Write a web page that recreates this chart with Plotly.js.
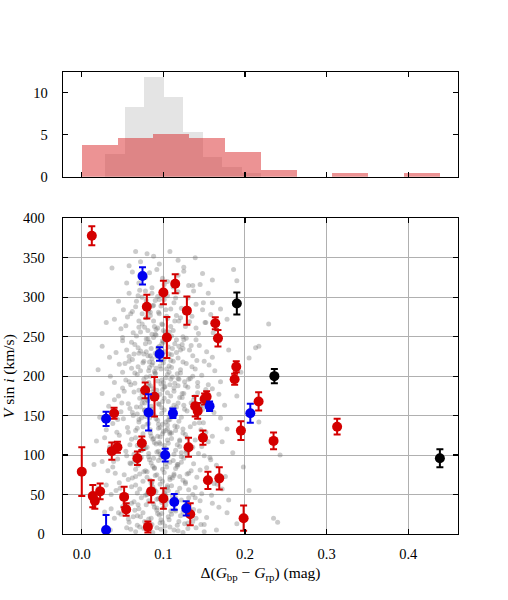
<!DOCTYPE html>
<html><head><meta charset="utf-8">
<script src="https://cdn.plot.ly/plotly-3.0.1.min.js"></script>
<style>html,body{margin:0;padding:0;background:#fff}</style>
</head><body><div id="chart" style="width:508px;height:600px"></div>
<script>
// ---- Colored sample (with errors) ----
var redX = [0.000,0.0123,0.0135,0.0160,0.0225,0.0368,0.0396,0.0437,0.0519,0.0544,0.0682,0.0736,0.0777,0.0797,0.0810,0.0850,0.0891,0.1000,0.1000,0.1043,0.1145,0.1288,0.1308,0.1329,0.1390,0.1420,0.1485,0.1505,0.1530,0.1546,0.1636,0.1669,0.1685,0.1873,0.1893,0.1950,0.1983,0.2167,0.2350,0.3129];
var redY = [79,378,48,42,54,105,153,110,47,31,96,115,182,288,9,54,174,306,45,249,317,283,110,25,162,156,122,171,174,68,267,248,70.5,196,212,131,20,168,118,136];
var redErr = [31,12,14,10,10,11,7,7,13,8,8.5,8.5,10,15,7,14,25,15,13,26,12,18,12,14,13,10,9,7,7,11,7.5,10.5,14,7,7,12,16,11.5,10.5,10];

var blueX = [0.0298,0.0298,0.0744,0.0818,0.0953,0.1022,0.1117,0.1133,0.1280,0.1566,0.2065];
var blueY = [146,5,327,154,228,100,153,40.6,32.5,162,153];
var blueErr = [9,19,11,23,8.5,8,6,10,9,6,12];

var blackX = [0.1900,0.2360,0.4388];
var blackY = [292,200,96];
var blackErr = [14,9,11.5];

// ---- Histograms (density) ----
var redBinEdges = [0.0,0.0439,0.0878,0.1316,0.1755,0.2194,0.2633,0.3072,0.3510,0.3949,0.4388];
var redDensity = [3.78,4.63,5.06,4.63,2.96,0.80,0,0.41,0,0.41];
var grayBinEdges = [0.0286,0.0525,0.0764,0.1003,0.1242,0.1481,0.1720,0.1959,0.2198];
var grayDensity = [2.65,8.29,11.85,9.48,5.33,2.30,1.18,0.40];

// ---- Field stars (background cloud) ----
var fieldX = [
0.066,0.080,0.108,0.139,0.072,0.095,0.118,0.058,0.088,0.125,
0.037,0.148,0.186,0.062,0.078,0.092,0.105,0.118,0.131,0.070,
0.086,0.099,0.112,0.055,0.125,0.145,0.160,0.190,0.083,0.101,
0.045,0.058,0.066,0.074,0.082,0.090,0.097,0.105,0.113,0.122,
0.130,0.140,0.155,0.170,0.062,0.071,0.086,0.094,0.109,0.118,
0.126,0.051,0.079,0.101,0.137,0.148,0.088,0.067,0.115,0.160,
0.030,0.048,0.056,0.063,0.070,0.077,0.084,0.091,0.098,0.105,
0.112,0.119,0.127,0.135,0.143,0.152,0.165,0.178,0.229,0.060,
0.067,0.074,0.081,0.088,0.095,0.102,0.109,0.116,0.124,0.132,
0.040,0.054,0.086,0.093,0.100,0.121,0.140,0.158,0.072,0.110,
0.025,0.042,0.050,0.058,0.065,0.072,0.079,0.086,0.093,0.100,
0.107,0.114,0.121,0.128,0.136,0.144,0.153,0.168,0.205,0.213,
0.217,0.062,0.069,0.076,0.083,0.090,0.097,0.104,0.111,0.118,
0.125,0.132,0.055,0.081,0.088,0.095,0.102,0.109,0.140,0.160,
0.070,0.078,0.085,0.092,0.099,0.106,0.116,0.123,0.034,0.180,
0.020,0.035,0.046,0.054,0.061,0.068,0.075,0.082,0.089,0.096,
0.103,0.110,0.117,0.124,0.131,0.139,0.147,0.156,0.170,0.195,
0.058,0.065,0.072,0.079,0.086,0.093,0.100,0.107,0.114,0.121,
0.128,0.050,0.084,0.091,0.098,0.105,0.112,0.136,0.150,0.163,
0.069,0.076,0.083,0.090,0.097,0.104,0.119,0.126,0.142,0.040,
0.025,0.040,0.050,0.057,0.064,0.071,0.078,0.085,0.092,0.099,
0.106,0.113,0.120,0.127,0.134,0.142,0.150,0.160,0.175,0.190,
0.060,0.067,0.074,0.081,0.088,0.095,0.102,0.109,0.116,0.123,
0.130,0.045,0.080,0.087,0.094,0.101,0.108,0.137,0.155,0.168,
0.070,0.077,0.084,0.091,0.098,0.105,0.118,0.125,0.145,0.033,
0.022,0.038,0.048,0.056,0.063,0.070,0.077,0.084,0.091,0.098,
0.105,0.112,0.119,0.126,0.133,0.141,0.149,0.162,0.178,0.217,
0.059,0.066,0.073,0.080,0.087,0.094,0.101,0.108,0.115,0.122,
0.129,0.044,0.082,0.089,0.096,0.103,0.110,0.138,0.156,0.170,
0.068,0.075,0.086,0.093,0.100,0.107,0.117,0.124,0.146,0.030,
0.018,0.034,0.046,0.054,0.061,0.068,0.075,0.082,0.089,0.096,
0.103,0.110,0.117,0.124,0.131,0.139,0.147,0.160,0.185,0.243,
0.057,0.064,0.071,0.078,0.085,0.092,0.099,0.106,0.113,0.120,
0.127,0.040,0.080,0.087,0.094,0.101,0.108,0.136,0.152,0.172,
0.066,0.073,0.084,0.091,0.098,0.105,0.115,0.122,0.143,0.028,
0.015,0.032,0.044,0.052,0.059,0.066,0.073,0.080,0.087,0.094,
0.101,0.108,0.115,0.122,0.129,0.137,0.145,0.158,0.176,0.198,
0.055,0.062,0.069,0.076,0.083,0.090,0.097,0.104,0.111,0.118,
0.125,0.038,0.078,0.085,0.092,0.099,0.106,0.134,0.150,0.165,
0.064,0.071,0.082,0.089,0.096,0.103,0.113,0.120,0.141,0.025,
0.020,0.036,0.046,0.054,0.061,0.068,0.075,0.082,0.089,0.096,
0.103,0.110,0.117,0.124,0.131,0.139,0.147,0.162,0.180,0.205,
0.057,0.064,0.071,0.078,0.085,0.092,0.099,0.106,0.113,0.120,
0.127,0.042,0.080,0.087,0.094,0.101,0.108,0.136,0.154,0.172,
0.066,0.073,0.084,0.091,0.098,0.105,0.115,0.122,0.145,0.030,
0.028,0.040,0.050,0.058,0.065,0.072,0.079,0.086,0.093,0.100,
0.107,0.114,0.121,0.128,0.136,0.144,0.153,0.168,0.190,0.240,
0.061,0.068,0.075,0.082,0.089,0.096,0.103,0.110,0.117,0.124,
0.131,0.048,0.085,0.092,0.099,0.106,0.113,0.140,0.160,0.178,
0.070,0.077,0.088,0.095,0.102,0.109,0.119,0.126,0.150,0.036,
0.035,0.055,0.066,0.076,0.087,0.097,0.108,0.118,0.130,0.150,
0.071,0.082,0.092,0.102,0.113,0.124,0.140,0.165,0.060,0.235,
0.093,0.081,0.107,0.118,0.074,0.099,0.088,0.112,0.127,0.069,
0.104,0.091,0.079,0.121,0.096,0.085,0.110,0.073,0.131,0.102,
0.087,0.114,0.098,0.076,0.109,0.123,0.083,0.095,0.117,0.068,
0.099,0.084,0.111,0.092,0.077,0.105,0.120,0.089,0.101,0.115,
0.078,0.103,0.090,0.124,0.097,0.082,0.113,0.094,0.071,0.108,
0.116,0.087,0.100,0.075,0.106,0.093,0.128,0.080,0.111,0.097,
0.089,0.119,0.083,0.101,0.072,0.114,0.096,0.122,0.086,0.104,
0.095,0.079,0.110,0.090,0.125,0.085,0.103,0.076,0.117,0.092,
0.107,0.094,0.082,0.113,0.099,0.070,0.120,0.088,0.105,0.130,
0.084,0.101,0.118,0.091,0.078,0.108,0.096,0.113,0.081,0.098,
0.061,0.135,0.052,0.148,0.043,0.157,0.066,0.139,0.057,0.151,
0.064,0.133,0.049,0.144,0.059,0.153,0.047,0.137,0.069,0.161,
0.053,0.142,0.062,0.129,0.039,0.166,0.056,0.146,0.074,0.134,
0.065,0.138,0.051,0.155,0.060,0.131,0.045,0.149,0.070,0.141,
0.058,0.147,0.068,0.128,0.041,0.159,0.063,0.136,0.050,0.152
];
var fieldY = [
358,355,358,350,345,342,347,340,352,338,
337,330,335,332,325,335,320,328,315,318,
312,324,313,318,333,316,322,321,331,316,
295,305,288,300,283,296,289,302,293,286,
299,291,305,285,282,309,305,281,285,307,
281,284,296,297,308,284,290,295,299,293,
268,260,275,255,270,262,277,252,266,273,
258,270,263,276,254,268,259,272,266,279,
251,266,258,270,279,256,263,277,250,269,
272,264,253,261,258,274,261,278,256,251,
238,230,245,225,240,232,247,222,236,243,
228,241,233,248,226,239,231,244,223,236,
238,221,236,228,243,229,220,249,235,223,
246,233,233,226,249,238,231,220,246,224,
229,241,235,225,245,237,230,240,224,233,
208,200,215,195,210,202,217,192,206,213,
198,211,203,218,196,209,201,214,193,205,
219,191,207,199,214,194,217,205,191,208,
216,205,200,210,195,202,219,200,219,207,
212,196,218,204,190,209,196,193,192,192,
178,170,185,165,180,172,187,162,176,183,
168,181,173,188,166,179,171,184,163,175,
189,161,177,169,184,164,187,175,161,178,
186,175,170,180,165,172,189,170,189,177,
182,166,188,174,160,179,166,163,162,162,
148,140,155,135,150,142,157,132,146,153,
138,151,143,158,136,149,141,154,133,142,
159,131,147,139,154,134,157,145,131,148,
156,145,140,150,135,142,159,140,159,147,
152,136,158,144,130,149,136,133,132,132,
118,110,125,105,120,112,127,102,116,123,
108,121,113,128,106,119,111,124,103,100,
129,101,117,109,124,104,127,115,101,118,
126,115,110,120,105,112,129,110,129,117,
122,106,128,114,100,119,106,103,102,122,
88,80,95,75,90,82,97,72,86,93,
78,91,83,98,76,89,81,94,73,85,
99,71,87,79,94,74,97,85,71,88,
96,85,80,90,75,82,99,80,99,87,
92,76,98,84,70,89,76,73,72,92,
58,50,65,45,60,52,67,42,56,63,
48,61,53,68,46,59,51,64,43,55,
69,41,57,49,64,44,67,55,41,58,
66,55,50,60,45,52,69,50,69,57,
62,46,68,54,40,59,46,43,42,62,
28,20,35,15,30,22,37,12,26,33,
18,31,23,38,16,29,21,34,13,15,
39,11,27,19,34,14,37,25,11,28,
36,25,20,30,15,22,39,20,39,27,
32,16,38,24,10,29,16,13,12,32,
5,8,3,7,2,6,9,4,7,3,
9,4,8,3,5,2,8,5,6,20,
301,247,213,188,166,139,121,93,64,37,
276,259,231,204,177,151,128,106,77,51,
289,270,241,219,196,173,147,116,88,23,
265,226,199,182,157,133,111,83,57,29,
308,284,253,235,209,187,163,139,98,72,
246,217,192,171,144,124,103,79,48,18,
263,238,211,186,161,137,114,91,66,42,
297,274,227,203,178,153,131,108,86,33,
256,233,207,185,168,145,119,96,61,14,
281,222,197,175,149,127,101,74,53,26,
243,212,181,158,129,97,73,46,19,268,
228,197,166,141,113,84,58,31,302,255,
216,187,154,122,92,63,35,12,279,239,
204,174,146,117,89,56,27,293,262,220,
193,163,134,106,77,49,22,315,249,183
];

// ---- Axis ticks ----
var xTickVals = [0.0,0.1,0.2,0.3,0.4];
var xTickText = ["0.0","0.1","0.2","0.3","0.4"];
var yTickVals = [0,50,100,150,200,250,300,350,400];
var yTickText = ["0","50","100","150","200","250","300","350","400"];
var hTickVals = [0,5,10];
var hTickText = ["0","5","10"];

function lefts(e){return e.slice(0,-1);}
function widths(e){var w=[];for(var i=0;i<e.length-1;i++)w.push(e[i+1]-e[i]);return w;}

var traces = [
  {type:'scatter',mode:'markers',x:fieldX,y:fieldY,xaxis:'x',yaxis:'y',
   marker:{size:5,color:'rgba(110,110,110,0.36)'},hoverinfo:'skip'},
  {type:'scatter',mode:'markers',x:redX,y:redY,xaxis:'x',yaxis:'y',
   marker:{size:10,color:'#d40000'},
   error_y:{type:'data',array:redErr,visible:true,color:'#d40000',thickness:2,width:3.5}},
  {type:'scatter',mode:'markers',x:blueX,y:blueY,xaxis:'x',yaxis:'y',
   marker:{size:10,color:'#0000f0'},
   error_y:{type:'data',array:blueErr,visible:true,color:'#0000f0',thickness:2,width:3.5}},
  {type:'scatter',mode:'markers',x:blackX,y:blackY,xaxis:'x',yaxis:'y',
   marker:{size:10,color:'#000000'},
   error_y:{type:'data',array:blackErr,visible:true,color:'#000000',thickness:2,width:3.5}},
  {type:'bar',x:lefts(grayBinEdges),y:grayDensity,width:widths(grayBinEdges),offset:0,
   xaxis:'x2',yaxis:'y2',marker:{color:'rgba(190,190,190,0.42)',line:{width:0}},hoverinfo:'skip'},
  {type:'bar',x:lefts(redBinEdges),y:redDensity,width:widths(redBinEdges),offset:0,
   xaxis:'x2',yaxis:'y2',marker:{color:'rgba(215,25,28,0.47)',line:{width:0}},hoverinfo:'skip'}
];

var axisCommon = {ticks:'inside',ticklen:5,tickwidth:1.2,tickcolor:'#000',showline:true,
  linecolor:'#000',linewidth:1.3,mirror:'ticks',zeroline:false};

var layout = {
  width:508,height:600,
  margin:{l:63,r:50,t:72,b:66,pad:0},
  paper_bgcolor:'#fff',plot_bgcolor:'#fff',
  font:{family:'Liberation Serif',size:14.5,color:'#000'},
  showlegend:false,barmode:'overlay',bargap:0,
  xaxis:Object.assign({},axisCommon,{domain:[0,1],anchor:'y',range:[-0.023,0.461],
    tickvals:xTickVals,ticktext:xTickText,showgrid:true,gridcolor:'#b0b0b0',gridwidth:1,
    ticklabelstandoff:6,
    title:{text:'Δ(<i>G</i><sub>bp</sub> − <i>G</i><sub>rp</sub>) (mag)',font:{size:15.5},standoff:6}}),
  yaxis:Object.assign({},axisCommon,{domain:[0,0.6833],anchor:'x',range:[0,400],
    tickvals:yTickVals,ticktext:yTickText,showgrid:true,gridcolor:'#b0b0b0',gridwidth:1,
    ticklabelstandoff:14,
    title:{text:'<i>V</i> sin <i>i</i> (km/s)',font:{size:15.5},standoff:8}}),
  xaxis2:Object.assign({},axisCommon,{domain:[0,1],anchor:'y2',range:[-0.023,0.461],
    tickvals:xTickVals,showticklabels:false,showgrid:false}),
  yaxis2:Object.assign({},axisCommon,{domain:[0.7734,1],anchor:'x2',range:[0,12.44],
    tickvals:hTickVals,ticktext:hTickText,showgrid:false,ticklabelstandoff:11})
};

Plotly.newPlot('chart',traces,layout,{staticPlot:true,displayModeBar:false});
</script></body></html>
